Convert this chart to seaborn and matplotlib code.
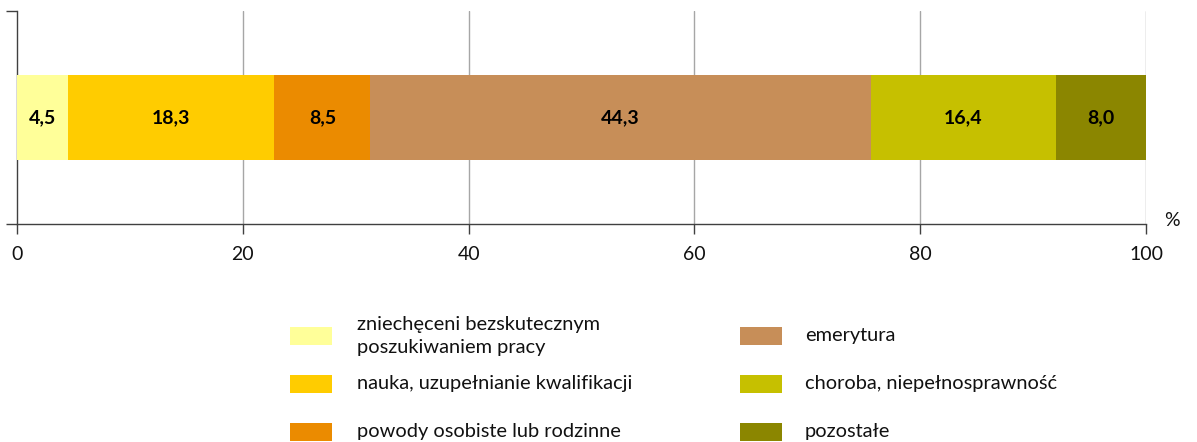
import matplotlib
matplotlib.use("Agg")
import matplotlib.pyplot as plt
import seaborn as sns
import numpy as np
import pandas as pd
from matplotlib.patches import Rectangle

categories = ["zniechęceni bezskutecznym\nposzukiwaniem pracy",
              "nauka, uzupełnianie kwalifikacji",
              "powody osobiste lub rodzinne",
              "emerytura",
              "choroba, niepełnosprawność",
              "pozostałe"]
values = [4.5, 18.3, 8.5, 44.3, 16.4, 8.0]
value_labels = ["4,5", "18,3", "8,5", "44,3", "16,4", "8,0"]
colors = ["#FFFF99", "#FFCC00", "#EB8B00", "#C78E58", "#C6C000", "#8B8600"]
xticks = [0, 20, 40, 60, 80, 100]

sns.set_theme(style="white")
plt.rcParams['font.family'] = ['Lato', 'DejaVu Sans']

W, H = 1197, 442
fig = plt.figure(figsize=(W / 100, H / 100), dpi=100)
ax = fig.add_axes([17 / W, 1 - 224 / H, (1146 - 17) / W, (224 - 11) / H])

cum = np.cumsum(values)
# stacked bar: draw cumulative totals from largest to smallest
for i in range(len(values) - 1, -1, -1):
    df = pd.DataFrame({"val": [cum[i]], "row": ["r"]})
    sns.barplot(data=df, x="val", y="row", orient="h", color=colors[i],
                width=0.4, saturation=1, ax=ax, zorder=3, linewidth=0)

starts = cum - np.array(values)
for s, v, lab in zip(starts, values, value_labels):
    ax.text(s + v / 2, 0, lab, ha="center", va="center", fontsize=14,
            fontweight="bold", color="black", zorder=4)

ax.set_xlim(0, 100)
ax.set_ylim(0.5, -0.5)
ax.set_xticks(xticks)
ax.set_xticklabels([str(t) for t in xticks], fontsize=14, color="#111111")
ax.set_yticks([-0.5, 0.5])
ax.set_yticklabels(["", ""])
ax.set_xlabel("")
ax.set_ylabel("")
for t in xticks[1:]:
    ax.axvline(t, color="#A6A6A6", lw=1, zorder=1)
for sp in ["top", "right"]:
    ax.spines[sp].set_visible(False)
for sp in ["left", "bottom"]:
    ax.spines[sp].set_color("#404040")
    ax.spines[sp].set_linewidth(1)
ax.tick_params(axis="x", direction="out", length=7, width=1, color="#404040", pad=9, bottom=True)
ax.tick_params(axis="y", direction="out", length=8, width=1, color="#404040", left=True)
ax.grid(False)

fig.text(1172 / W, 1 - 221 / H, "%", fontsize=14, ha="center", va="center", color="#111111")

# legend
rows_y = [336, 384, 432]
col_x = [290, 740]
text_x = [357, 805]
for i, (lab, c) in enumerate(zip(categories, colors)):
    col = i // 3
    row = i % 3
    yc = rows_y[row]
    fig.patches.append(Rectangle((col_x[col] / W, 1 - (yc + 9) / H), 42 / W, 18 / H,
                                 transform=fig.transFigure, facecolor=c, edgecolor="none"))
    fig.text(text_x[col] / W, 1 - yc / H, lab, fontsize=14.4, ha="left", va="center",
             color="#111111", linespacing=1.4)

fig.savefig("out.png", dpi=100)
